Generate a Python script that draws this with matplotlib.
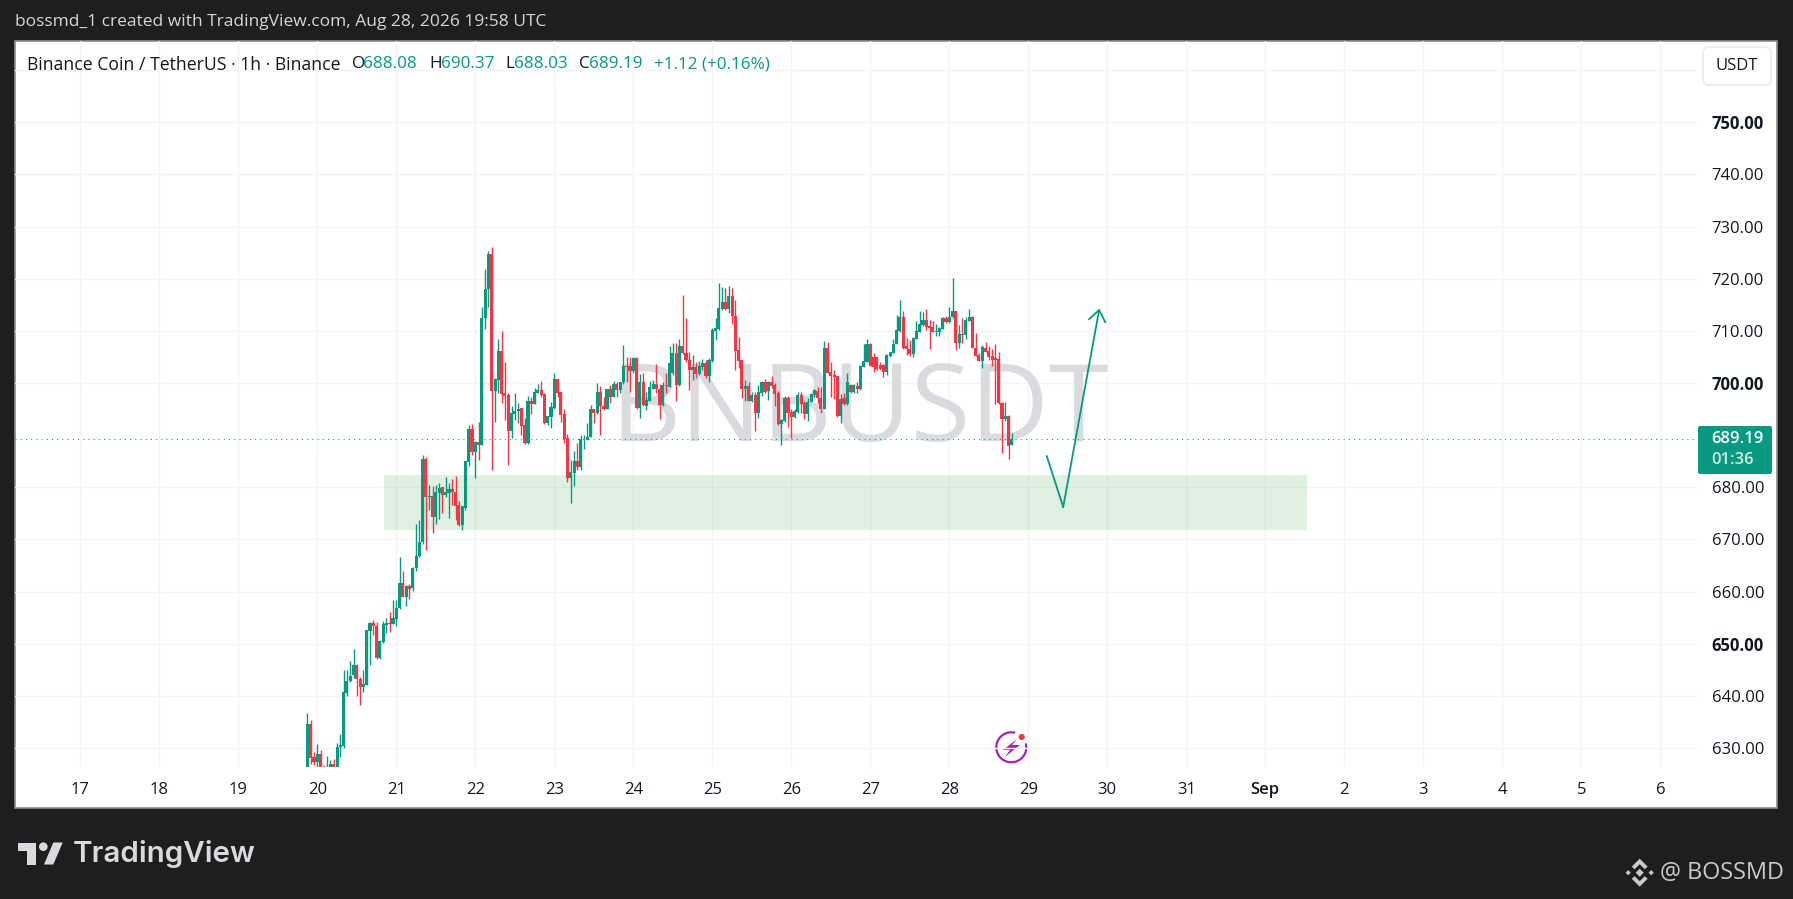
import numpy as np
import pandas as pd
import matplotlib
matplotlib.use('Agg')
import matplotlib.pyplot as plt
import matplotlib.dates as mdates
from matplotlib.patches import Rectangle, FancyBboxPatch, Polygon, Circle, Arc

plt.rcParams['font.family'] = ['Open Sans', 'DejaVu Sans']

# hourly candles, BNB/USDT
opens = [625,634.6,628.2,627.4,628.8,626,625,626,626.9,626,
         630.1,630.3,640.6,642.8,644,645.9,643.2,641.6,642.1,652.5,
         653.9,653.4,647.2,650.4,653.6,653.9,653.8,654.7,656.8,661.6,
         659,661,660.6,664.6,666.9,669.6,685.5,678.2,678.3,674.3,
         678.9,680,678.5,678.9,679.6,679.1,676.6,672.7,676.1,684.9,
         691.2,686.8,688.7,688.2,712.4,718,724.7,698.5,700.6,706.1,
         698,697.7,690.8,694.1,694.7,695.2,691.9,688.4,696.5,696,
         698.1,698.6,697.9,692.4,693.5,695.3,700.8,698.2,694,689.4,
         681.8,682.8,685,683.9,689.2,689,689.7,695.1,694.3,698.3,
         695.5,695,698.8,697.4,699.8,698.6,700.1,703.2,703.2,702.3,
         704.8,695.3,700.2,695.6,696.6,698.9,699.8,698.8,695.8,699.6,
         699.3,702,705.7,699.6,707.1,705.8,704.5,702.5,703.1,701.8,
         703.1,703.9,701.4,704.3,710,710.4,714.1,715.6,714.2,716.7,
         712.9,706.3,704.4,698.8,699.4,696.6,697.7,694.3,698,700.2,
         698.4,700.2,699.6,698,692.1,692.8,697.1,694.5,693.5,694.5,
         697.7,696.1,694,696.4,697.7,698.5,697.2,695.1,706.8,702.1,
         701.5,701.3,693.7,697.2,695.9,699.6,698.2,699.5,698.8,703,
         704.1,707.5,704.9,704.9,703.4,703.4,702.2,705.2,705.7,707.5,
         710,712.7,707.1,706.6,705.6,708.5,709.8,711.1,712.1,711,
         710.7,709.8,709.8,710.4,712.5,711.7,712.6,713.8,707.7,709.4,
         709.2,711.9,712.7,706.8,705.4,704.3,706.8,706.1,705.2,704.7,
         704.6,696.1,693.1,693.7,688.08]
highs = [636.7,635.3,629.3,630.8,629.6,626.7,628.4,627.7,627.9,631,
         632.7,644.9,644.9,646.7,648.9,646.2,643.7,645,652.6,654.2,
         654.5,654.2,650.7,654.3,655,656,658.4,658.4,666.6,663.9,
         661.3,661.5,664.8,673,673.7,686.2,685.8,680.4,680.2,680.4,
         680.9,680,681.9,680.9,681.6,682.1,677.4,676.5,685,691.9,
         692.1,688.8,692.6,714.5,721.9,725.3,726,700.9,708.4,710,
         704,698,695.6,698,696.2,695.2,693.3,697.5,697.4,699,
         699.8,700.4,698,693.6,696.3,701.9,700.8,698.2,695.1,690.3,
         685.3,686.9,688.4,690,690,692.3,695.7,695.1,700,699.4,
         697.4,698.9,699.6,700.3,700.2,700.1,707.3,704.9,704.9,704.9,
         704.9,701.8,702,698.3,700.4,700.6,703.6,699.9,700.2,702,
         707.1,707.6,707.7,708.4,716.9,712.4,706,705.4,704.1,704.3,
         704.6,704.4,704.7,710.5,712.4,719.1,718.5,718.2,718.6,718.2,
         716,708.8,704.4,700.5,700.2,698.3,698.3,699.6,700.4,700.7,
         700.4,701.4,700,698.5,693,697.5,697.6,695,695,698.3,
         698.2,696.5,697.1,697.9,698.9,699.3,699.3,708,707.8,704.1,
         702.5,701.4,697.9,698,702,699.9,699.9,700.2,703.4,707.5,
         708.4,707.6,705.7,704.9,704,703.6,705.6,706,708.4,713,
         715.9,713.8,708.7,708.2,708.8,711.8,713.8,713.7,714.1,712.1,
         711.9,711.4,710.8,712.7,712.8,714.6,720.1,713.9,711.2,712.4,
         712.7,714.1,712.8,709.5,705.7,707.2,707.9,707.1,706.6,707.5,
         705.9,696.4,696.4,693.8,690.37]
lows = [625,627,626.7,626,625,625,625,625,625,625,
        628.2,630,640,642.6,643.5,640,638.2,640.7,642,646,
        651.7,647,647,650.2,652,652.2,653.7,653.3,656.6,659,
        657.2,658.6,660.2,664,666.7,669.1,668,675.6,671.3,672.9,
        674,675,678.2,674.1,676.6,673.7,672.6,671.8,675.7,684,
        686.2,681.8,685.2,688.1,710.3,714.6,683.3,692.6,698.1,696.1,
        692.9,684.3,689.4,692.9,692.3,690,688.3,688.3,694,695.9,
        698,697.4,692.1,692,691.3,695.1,697.4,692.6,688.4,681.1,
        677,680.3,683.3,683.4,687.4,689,689.6,692.4,694,690,
        694.9,695,696.1,697.3,697.4,698,699.9,700.2,698.3,702,
        695,693.3,695.6,694.8,696.6,698.8,698,693,695.6,698,
        699.2,701.5,696.6,699.4,705.5,704,698.6,700.6,700.9,701.5,
        702.5,701,700.2,704.1,708.2,710.2,714,714,713.5,711.3,
        702.5,702.9,697.2,696.5,696.6,696.4,690.7,693.2,697.6,698,
        696.7,699,695.6,692,688.2,692.6,691.5,689.5,693.3,694.3,
        694.3,693,692.8,696.3,697.4,696.1,694.3,695,701.9,697.4,
        697,693.5,692.3,695.8,695.8,698.1,698,698,698.7,703,
        704,703.2,702.2,702.5,702.5,701.2,701.5,705,705.7,707.5,
        709.7,706.5,705.4,705.2,705,708.4,709.7,711,710.2,706.6,
        709.7,709,709.1,710.3,711.6,711.5,712.5,706.3,706.8,707.6,
        708.4,711.8,706.7,705.1,704.2,702.8,705.9,704.4,703.3,696,
        696,686.5,692.7,685.4,688.03]
closes = [634.6,628,627.4,628.8,626,625.8,625.9,626.9,626,630.1,
          630.5,640.7,642.8,643.9,645.9,643.2,641.6,642.3,652.6,653.9,
          653.3,647.2,650.5,653.8,653.9,653.8,654.9,656.8,661.6,659,
          661,660.5,664.6,666.9,669.6,685.5,678.2,678.3,674.3,679.1,
          679.8,678.5,679.1,679.6,679,676.5,672.7,676.4,685,691.2,
          686.8,688.7,688.2,712.4,718.1,724.7,698.5,700.7,706.1,697.9,
          697.6,690.8,694.2,694.7,695.1,691.8,688.4,696.5,696,698.2,
          698.6,697.7,692.4,693.6,695.4,700.8,698.1,693.9,689.2,681.8,
          682.9,685,683.9,689.2,689.3,689.7,695.1,694.3,698.3,695.5,
          695,698.8,697.4,699.8,698.6,700.1,703.2,703.1,702.3,704.8,
          695.3,700.2,695.8,696.7,699.2,699.8,698.8,695.8,699.6,699.4,
          703.8,705.7,699.6,707.1,705.8,704.5,702.5,703.1,701.8,703.2,
          703.9,701.4,704.5,710.2,710.5,714.3,715.6,714.2,716.7,712.9,
          706.2,704.3,698.8,699.4,696.6,697.7,694.2,698.2,700.2,698.3,
          700.2,699.4,697.9,692.1,692.9,697.1,694.3,693.4,694.7,697.7,
          696,694,696.4,697.8,698.65,697.05,695.1,706.8,702,701.3,
          701.2,693.7,697,695.9,700.2,698.2,699.6,698.8,703.3,704.2,
          707.5,703.3,703.1,702.7,702.7,702.2,705.4,705.9,707.5,710.2,
          712.7,706.8,706.5,705.6,708.7,710,711.3,712.1,710.8,710.6,
          709.8,709.9,710.5,712.5,711.7,712.7,713.8,707.7,709.4,709.3,
          712.1,712.6,706.8,705.2,704.3,707,706,705,704.5,704.4,
          696.1,693.1,693.7,688,689.19]

first_candle = '2026-08-19 21:00'
day_labels = ['17','18','19','20','21','22','23','24','25','26','27','28','29',
              '30','31','Sep','2','3','4','5','6']
price_ticks = [630,640,650,660,670,680,700,710,720,730,740,750,760]
strong_prices = [650, 700, 750]
last_price = 689.19

zone_time = ['2026-08-20 20:15', '2026-09-01 12:36']
zone_price = [671.8, 682.35]
arrow_time = ['2026-08-29 05:36', '2026-08-29 10:36', '2026-08-29 21:36']
arrow_price = [686.0, 676.2, 714.3]

GREEN = '#089981'
RED = '#F23645'
W, H = 1793, 899
dark = '#1e1e1e'

fig = plt.figure(figsize=(W / 100, H / 100), dpi=100, facecolor=dark)

# page furniture in pixel coordinates: chrome sits under the chart, labels above it
chrome = fig.add_axes([0, 0, 1, 1], zorder=0)
labels = fig.add_axes([0, 0, 1, 1], zorder=2)
for a in (chrome, labels):
    a.set_xlim(0, W)
    a.set_ylim(H, 0)
    a.axis('off')

chrome.add_patch(Rectangle((15, 41), 1762, 767, fc='white', ec='#8b8b8b', lw=1.2))
labels.text(15, 22.5, 'bossmd_1 created with TradingView.com, Aug 28, 2026 19:58 UTC',
            color='#d6d6d8', fontsize=12.55, va='center')

labels.text(27, 64.5, 'Binance Coin / TetherUS · 1h · Binance', color='#131722', fontsize=12.7, va='center')
legend_bits = [(352, 'O', '#131722'), (363, '688.08', GREEN),
               (429, 'H', '#131722'), (441, '690.37', GREEN),
               (505, 'L', '#131722'), (514, '688.03', GREEN),
               (579, 'C', '#131722'), (589, '689.19', GREEN),
               (654, '+1.12 (+0.16%)', GREEN)]
for lx, txt, col in legend_bits:
    labels.text(lx, 64.5, txt, color=col, fontsize=12.3, va='center')

chrome.add_patch(FancyBboxPatch((1706, 50), 62, 32, boxstyle='round,pad=3,rounding_size=6',
                                fc='white', ec='#e6e8ee', lw=1))
labels.text(1737, 65.5, 'USDT', color='#131722', fontsize=12, ha='center', va='center')

chrome.add_patch(FancyBboxPatch((1698, 426), 74, 48, boxstyle='round,pad=0,rounding_size=2',
                                fc=GREEN, ec='none'))
labels.text(1711, 439, '689.19', color='white', fontsize=12, fontweight='semibold', va='center')
labels.text(1711, 460, '01:36', color='#cdebe5', fontsize=12, fontweight='semibold', va='center')

# lightning badge
purple = '#9c27b0'
chrome.add_patch(Arc((1011.3, 747.3), 30, 30, theta1=-15, theta2=285, ec=purple, lw=1.6))
chrome.add_patch(Polygon([(1017, 739), (1003, 750), (1010, 750), (1005, 757), (1020, 745), (1012, 745)],
                         fc=purple, ec='none'))
chrome.add_patch(Circle((1021.7, 737), 3.8, fc=RED, ec='white', lw=1))

# TradingView logo
logo = '#d9dadd'
chrome.add_patch(Polygon([(18, 842.5), (35.7, 842.5), (35.7, 864.5), (26.7, 864.5), (26.7, 851), (18, 851)],
                         fc=logo, ec='none'))
chrome.add_patch(Circle((43.3, 846.7), 4.3, fc=logo, ec='none'))
chrome.add_patch(Polygon([(53.3, 842.5), (62.7, 842.5), (53.3, 864.5), (44, 864.5)], fc=logo, ec='none'))
labels.text(73, 854.5, 'TradingView', color=logo, fontsize=21.3, fontweight='semibold', family='Inter',
            va='center')

# Binance mark and handle
mark = '#c9cacd'
mx, my = 1639.7, 872.7
def diamond(cx, cy, r):
    chrome.add_patch(Polygon([(cx, cy - r), (cx + r, cy), (cx, cy + r), (cx - r, cy)], fc=mark, ec='none'))
diamond(mx, my, 4)
diamond(mx - 11.5, my, 2.6)
diamond(mx + 11.5, my, 2.6)
for s in (-1, 1):
    chrome.add_patch(Polygon([(mx, my + s * 14), (mx + 8, my + s * 6), (mx + 5, my + s * 3.5),
                              (mx, my + s * 8.5), (mx - 5, my + s * 3.5), (mx - 8, my + s * 6)],
                             fc=mark, ec='none'))
labels.text(1660, 873, '@ BOSSMD', color=mark, fontsize=16.8, va='center')

# the chart
ax = fig.add_axes([15 / W, 1 - 767 / H, (1697 - 15) / W, (767 - 41) / H], zorder=1)
ax.patch.set_alpha(0)

times = mdates.date2num(pd.date_range(first_candle, periods=len(opens), freq='h'))
o = np.array(opens)
c = np.array(closes)
colors = np.where(c >= o, GREEN, RED)

ax.vlines(times, lows, highs, colors=colors, lw=1.0, zorder=4)
ax.bar(times, np.maximum(np.abs(c - o), 0.15), bottom=np.minimum(o, c), width=0.94 / 24,
       color=colors, lw=0, zorder=5)

zt = mdates.date2num(pd.to_datetime(zone_time))
ax.add_patch(Rectangle((zt[0], zone_price[0]), zt[1] - zt[0], zone_price[1] - zone_price[0],
                       fc='#4caf50', alpha=0.17, ec='none', zorder=3))

ax.axhline(last_price, color=GREEN, lw=0.75, ls=(0, (1, 4)), zorder=2)

at = mdates.date2num(pd.to_datetime(arrow_time))
ax.plot(at[:2], arrow_price[:2], color=GREEN, lw=1.3, zorder=6, solid_capstyle='round')
ax.annotate('', xy=(at[2], arrow_price[2]), xytext=(at[1], arrow_price[1]), zorder=6,
            arrowprops=dict(arrowstyle='->,head_length=0.8,head_width=0.6', color=GREEN, lw=1.3,
                            shrinkA=0, shrinkB=0))

ax.text((859.5 - 15) / (1697 - 15), (767 - 441) / (767 - 41), 'BNBUSDT', transform=ax.transAxes,
        color='#dadbde', fontsize=78, fontweight='medium', ha='center', va='baseline', zorder=1)

hours_per_px = 1 / 3.2917
start = pd.Timestamp('2026-08-17')
ax.set_xlim(mdates.date2num(start + pd.Timedelta(hours=(15 - 80.3) * hours_per_px)),
            mdates.date2num(start + pd.Timedelta(hours=(1697 - 80.3) * hours_per_px)))
ax.set_ylim(700 - (767 - 383) / 5.214, 700 + (383 - 41) / 5.214)

ax.set_xticks(mdates.date2num(pd.date_range(start, periods=len(day_labels), freq='D')))
ax.set_xticklabels(day_labels)
ax.set_yticks(price_ticks)
ax.set_yticklabels(['' if p == 760 else f'{p:.2f}' for p in price_ticks])
ax.yaxis.tick_right()
ax.tick_params(axis='x', length=0, pad=10.5, labelsize=12, labelcolor='#131722')
ax.tick_params(axis='y', length=0, pad=10.5, labelsize=12, labelcolor='#131722')
for lab, p in zip(ax.get_yticklabels(), price_ticks):
    if p in strong_prices:
        lab.set_fontweight('bold')
for lab, d in zip(ax.get_xticklabels(), day_labels):
    if d == 'Sep':
        lab.set_fontweight('semibold')
ax.grid(True, color='#f3f4f6', lw=1.0)
ax.set_axisbelow(True)
for s in ax.spines.values():
    s.set_visible(False)

fig.savefig('out.png', dpi=100, facecolor=dark)
